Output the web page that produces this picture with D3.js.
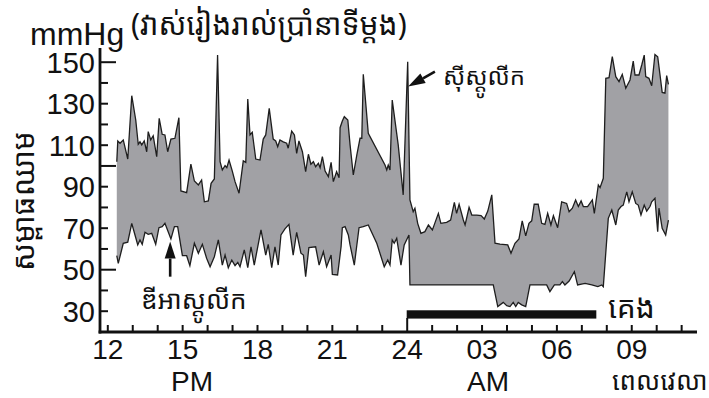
<!DOCTYPE html>
<html><head><meta charset="utf-8">
<script src="https://cdn.jsdelivr.net/npm/d3@7/dist/d3.min.js"></script>
<style>body{margin:0;background:#fff}svg{display:block}</style>
</head><body><svg id="c" width="709" height="398"></svg>
<script>
// Hours run continuously from 12 (noon) to 36 (noon next day)
const sysHours = [12.38,12.42,12.51,12.64,12.82,12.98,13.14,13.24,13.31,13.38,13.48,13.58,13.64,13.74,13.84,13.98,14.08,14.20,14.31,14.42,14.55,14.71,14.87,14.95,15.18,15.35,15.49,15.65,15.78,15.89,16.05,16.16,16.29,16.42,16.52,16.61,16.72,16.79,16.88,17.01,17.12,17.28,17.45,17.55,17.63,17.72,17.81,17.95,18.12,18.25,18.35,18.49,18.65,18.75,18.83,18.92,19.05,19.19,19.25,19.39,19.50,19.59,19.68,19.82,19.95,20.06,20.16,20.26,20.35,20.46,20.53,20.62,20.73,20.86,20.97,21.06,21.19,21.29,21.33,21.42,21.50,21.64,21.73,21.86,22.00,22.13,22.20,22.26,22.46,23.13,23.20,23.26,23.33,23.42,23.66,23.86,24.04,24.13,24.26,24.33,24.44,24.57,24.73,24.87,25.03,25.11,25.27,25.37,25.60,25.76,25.91,26.00,26.10,26.27,26.34,26.50,26.61,26.81,26.98,27.11,27.25,27.41,27.54,27.74,28.05,28.18,28.34,28.50,28.63,28.77,28.90,29.01,29.11,29.27,29.41,29.54,29.65,29.78,29.88,30.05,30.21,30.41,30.51,30.64,30.77,30.88,30.99,31.08,31.25,31.44,31.52,31.68,31.75,31.88,31.98,32.11,32.24,32.38,32.51,32.64,32.78,32.95,33.08,33.15,33.31,33.42,33.52,33.58,33.71,33.82,33.95,34.06,34.15,34.24,34.35,34.42,34.49];
const sysValues = [101.8,111.8,110.7,112.3,103.1,133.6,121.9,110.2,111.4,109.9,111.8,106.6,116.3,112.3,114.3,104.2,122.7,115,114.7,106.6,112.7,113.1,123,87.7,86.9,100.6,92.5,90.6,93,82.5,82.9,91.4,93.5,153.2,101.8,97.8,99.9,98.9,102.6,97.3,92.2,86.6,102.2,101.5,132,114.7,116,103.1,102.6,112.7,114.7,127.5,112.7,111.8,109,112.3,111.4,110.7,108.3,116.6,114.7,105.8,111.8,106.6,97,105.4,100.6,101.8,99.4,101,98.9,104.2,97.3,94.6,101.5,92.2,97,94.1,118.2,121.4,123.5,121.9,109.9,95.4,105,113.1,113.1,143.9,115.5,100.2,97.8,100.2,97.8,131.5,109.9,85.8,150,83.4,77.7,79.4,72.1,67.3,68.1,71.3,68.9,71.6,76.9,72.1,72.6,73.7,82.2,76.9,81.3,73.7,71.3,79.8,76.1,76.1,75.8,74.2,78,85.8,62.5,62.1,61.7,57.7,62.5,64.6,73.3,66.1,72.1,73.3,81.3,81.3,72.1,71.6,76.9,71.3,75.8,70,82.5,81.7,77.7,79.4,83.4,80.2,82.9,80.2,80.2,83.4,76.9,90.6,89.3,93.8,142,142.3,152.4,142.8,140.4,143.9,137.2,141.2,150.3,143.6,143.6,148.4,153.2,142.8,142,138.4,153.5,152.4,143.9,135.2,134.8,143.3,139.1];
const diaHours = [12.38,12.44,12.64,12.82,12.98,13.11,13.22,13.31,13.40,13.51,13.64,13.78,13.94,14.07,14.20,14.31,14.44,14.55,14.69,14.82,15.01,15.18,15.31,15.49,15.65,15.81,15.98,16.12,16.29,16.45,16.61,16.72,16.85,16.99,17.12,17.23,17.32,17.49,17.63,17.76,17.89,18.16,18.35,18.45,18.59,18.72,18.85,18.96,19.12,19.28,19.45,19.59,19.76,19.86,19.95,20.08,20.35,20.49,20.66,20.79,20.97,21.02,21.23,21.37,21.42,21.53,21.66,21.73,21.90,22.09,22.26,22.46,22.80,23.10,23.24,23.33,23.42,23.50,23.60,23.77,23.90,24.09,24.13,27.47,27.65,27.87,28.01,28.14,28.27,28.37,28.47,28.61,28.77,28.94,29.61,29.74,29.92,30.14,30.24,30.34,30.51,30.72,30.85,31.15,31.42,31.66,31.82,31.88,32.08,32.22,32.38,32.48,32.59,32.68,32.82,32.91,33.04,33.18,33.28,33.39,33.52,33.62,33.75,33.82,33.95,34.06,34.11,34.24,34.38,34.49];
const diaValues = [56.5,52.8,62.5,63,72.1,66.5,61.7,64.1,62,67.8,66.8,67.3,62,70,70.5,72.1,68.1,64.6,70.5,70.5,56.5,56.5,51.7,62.5,57.7,62,55.3,51.2,56,64.1,52,56.8,50.7,54.4,51.7,53.3,51.2,59.3,50.7,60.8,52,68.9,56.8,62,50.7,60.8,52,66.5,69.4,71.6,56.8,67.8,57.7,56.8,46.4,60.4,60.8,52,58.4,51.2,56.8,47.5,47.2,60.8,70,70.5,66.5,61.7,52,70,70.5,71.3,62.5,51.2,54.4,52,64.1,62.5,64.9,52,61.7,66.5,42.4,42.4,32,34,32.4,32,34,32,34,32.8,32,42.4,42.4,39.2,42.4,42.4,44,42.4,44.3,48.8,42.4,43.2,42.4,41.6,42.4,41.6,74.5,78.5,71.3,78.5,80.2,80.9,87.3,82.5,87.3,81.7,80.9,76.1,80.9,78,80.2,82.5,84.2,68.1,79.4,69.7,66.5,73.7];
const xTickHours = [12,15,18,21,24,27,30,33];
const xTickLabels = ["12","15","18","21","24","03","06","09"];
const yTickLabels = [30,50,70,90,110,130,150];
const sleepPeriod = [24, 31.6];

const svg = d3.select("#c");
const FONT = "'Liberation Sans', Arial, sans-serif";
const KH = "'Noto Sans Khmer','Khmer OS','Noto Sans', sans-serif";

const x = d3.scaleLinear().domain([12, 36]).range([107.3, 107.3 + 24 * 24.95]);
const y = d3.scaleLinear().domain([20, 150]).range([331.45, 61.7]);

const sys = sysHours.map((h, i) => [h, sysValues[i]]);
const dia = diaHours.map((h, i) => [h, diaValues[i]]);
const line = d3.line().x(d => x(d[0])).y(d => y(d[1]));

// filled band between systolic and diastolic
svg.append("path")
  .attr("d", line(sys.concat(dia.slice().reverse())) + "Z")
  .attr("fill", "#a1a1a5").attr("stroke", "none");
svg.append("path").attr("d", line(sys)).attr("fill", "none")
  .attr("stroke", "#1e1e1e").attr("stroke-width", 1.3).attr("stroke-linejoin", "miter");
svg.append("path").attr("d", line(dia)).attr("fill", "none")
  .attr("stroke", "#1e1e1e").attr("stroke-width", 1.3);

// sleep bar
svg.append("rect")
  .attr("x", x(sleepPeriod[0])).attr("width", x(sleepPeriod[1]) - x(sleepPeriod[0]))
  .attr("y", y(30.2)).attr("height", y(26.2) - y(30.2)).attr("fill", "#111");

// Y axis
const yAxis = d3.axisLeft(y).tickValues(d3.range(30, 151, 10))
  .tickSizeInner(-8).tickSizeOuter(0).tickPadding(5)
  .tickFormat(d => yTickLabels.includes(d) ? d : "");
const gy = svg.append("g").attr("transform", "translate(100,0)").call(yAxis);
gy.select(".domain").remove();
gy.selectAll(".tick line").attr("stroke", "#111").attr("stroke-width", 2)
  .attr("x2", d => d % 50 === 0 ? 16 : 8);
gy.selectAll(".tick text").attr("font-family", FONT).attr("font-size", 29)
  .attr("fill", "#111").attr("dy", "0.36em");
svg.append("line").attr("x1", 100).attr("x2", 100).attr("y1", 48).attr("y2", 333.5)
  .attr("stroke", "#111").attr("stroke-width", 2.8);

// X axis
const xAxis = d3.axisBottom(x).tickValues(d3.range(12, 36, 1))
  .tickSizeInner(-7).tickSizeOuter(0).tickPadding(2)
  .tickFormat(d => { const i = xTickHours.indexOf(d); return i >= 0 ? xTickLabels[i] : ""; });
const gx = svg.append("g").attr("transform", "translate(0,332)").call(xAxis);
gx.select(".domain").remove();
gx.selectAll(".tick line").attr("stroke", "#111").attr("stroke-width", 2)
  .attr("y2", d => d === 24 ? -14 : -7);
gx.selectAll(".tick text").attr("font-family", FONT).attr("font-size", 28)
  .attr("fill", "#111").attr("dy", "0.88em");
svg.append("line").attr("x1", 98.6).attr("x2", 697).attr("y1", 332).attr("y2", 332)
  .attr("stroke", "#111").attr("stroke-width", 2.8);

// Titles and labels
svg.append("text").attr("x", 30).attr("y", 45).attr("font-family", FONT)
  .attr("font-size", 32).attr("fill", "#111").text("mmHg");
svg.append("text").attr("x", 131).attr("y", 35).attr("font-family", KH)
  .attr("font-size", 30).attr("fill", "#111").text("(វាស់រៀងរាល់ប្រាំនាទីម្តង)");
svg.append("text").attr("transform", "translate(34,201) rotate(-90)")
  .attr("text-anchor", "middle").attr("font-family", KH).attr("font-size", 30)
  .attr("fill", "#111").text("សម្ពាធឈាម");
svg.append("text").attr("x", 192).attr("y", 391).attr("text-anchor", "middle")
  .attr("font-family", FONT).attr("font-size", 28).attr("fill", "#111").text("PM");
svg.append("text").attr("x", 488).attr("y", 391).attr("text-anchor", "middle")
  .attr("font-family", FONT).attr("font-size", 28).attr("fill", "#111").text("AM");
svg.append("text").attr("x", 612).attr("y", 390).attr("font-family", KH)
  .attr("font-size", 26).attr("fill", "#111").text("ពេលវេលា");
svg.append("text").attr("x", 608).attr("y", 318).attr("font-family", KH)
  .attr("font-size", 30).attr("fill", "#111").text("គេង");
svg.append("text").attr("x", 141).attr("y", 309).attr("font-family", KH)
  .attr("font-size", 26).attr("fill", "#111").text("ឌីអាស្តូលីក");
svg.append("text").attr("x", 443).attr("y", 85).attr("font-family", KH)
  .attr("font-size", 24).attr("fill", "#111").text("ស៊ីស្តូលីក");

// arrows
function arrow(x1, y1, x2, y2) {
  const ang = Math.atan2(y2 - y1, x2 - x1), L = 17, W = 5.5;
  const bx = x2 - L * Math.cos(ang), by = y2 - L * Math.sin(ang);
  svg.append("line").attr("x1", x1).attr("y1", y1).attr("x2", bx).attr("y2", by)
    .attr("stroke", "#111").attr("stroke-width", 2.6);
  const px = -Math.sin(ang) * W, py = Math.cos(ang) * W;
  svg.append("path").attr("d", `M${x2},${y2}L${bx + px},${by + py}L${bx - px},${by - py}Z`)
    .attr("fill", "#111");
}
arrow(x(14.52), y(46.4), x(14.52), y(63.3));
arrow(x(25.13), y(145.2), x(24.06), y(138));
</script></body></html>
